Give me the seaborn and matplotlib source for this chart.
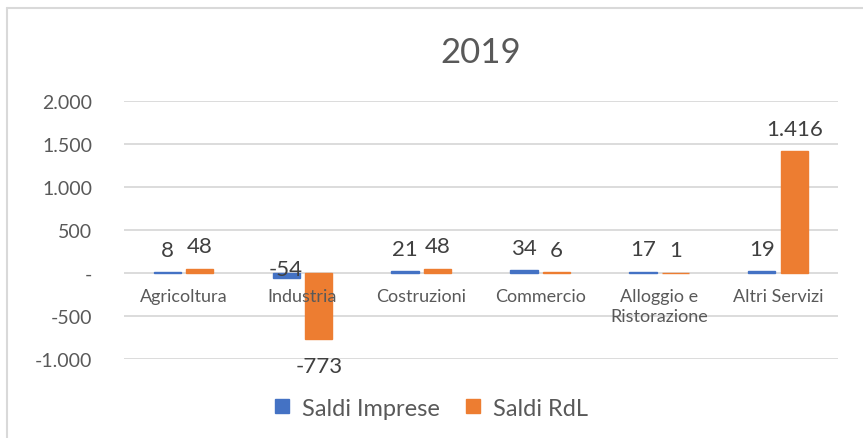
import numpy as np
import pandas as pd
import seaborn as sns
import matplotlib.pyplot as plt
from matplotlib.lines import Line2D

# data
categories = ["Agricoltura", "Industria", "Costruzioni", "Commercio",
              "Alloggio e\nRistorazione", "Altri Servizi"]
saldi_imprese = [8, -54, 21, 34, 17, 19]
saldi_rdl = [48, -773, 48, 6, 1, 1416]
series_names = ["Saldi Imprese", "Saldi RdL"]
colors = ["#4472C4", "#ED7D31"]
yticks = [-1000, -500, 0, 500, 1000, 1500, 2000]

def fmt_it(v):
    if v == 0:
        return "-"
    return f"{v:,.0f}".replace(",", ".")

df = pd.DataFrame({
    "cat": categories * 2,
    "serie": [series_names[0]] * 6 + [series_names[1]] * 6,
    "val": saldi_imprese + saldi_rdl,
})

sns.set_theme(style="white")
plt.rcParams['font.family'] = ['Lato', 'DejaVu Sans']
txt = "#595959"

fig = plt.figure(figsize=(8.63, 4.39), dpi=100)
ax = fig.add_axes([0.1437, 0.18, 0.827, 0.5877])

sns.barplot(data=df, x="cat", y="val", hue="serie", palette=colors,
            saturation=1, width=0.55, gap=0.17, ax=ax, legend=False,
            zorder=3)
for cont, c in zip(ax.containers, colors):
    for p in cont:
        p.set_edgecolor(c)
        p.set_linewidth(1.0)

ax.set_ylim(-1000, 2000)
ax.set_yticks(yticks)
ax.set_yticklabels([fmt_it(v) for v in yticks], color=txt, fontsize=14)
ax.yaxis.grid(True, color="#D9D9D9", linewidth=1.3, zorder=0)
ax.tick_params(axis="y", length=0, pad=23)
for s in ax.spines.values():
    s.set_visible(False)

# category labels just below zero line
ax.set_xticks([])
ax.set_xlabel("")
ax.set_ylabel("")
for i, c in enumerate(categories):
    ax.annotate(c, (i, 0), xytext=(0, -11), textcoords="offset points",
                ha="center", va="top", color=txt, fontsize=13,
                linespacing=1.3)

# data labels
for cont in ax.containers:
    for p in cont:
        h = p.get_height()
        x = p.get_x() + p.get_width() / 2
        if h < -100:
            ax.annotate(fmt_it(h), (x, h), xytext=(0, -12),
                        textcoords="offset points", ha="center", va="top",
                        color="#404040", fontsize=16)
        elif h < 0:
            ax.annotate(fmt_it(h), (x, 0), xytext=(0, 3),
                        textcoords="offset points", ha="center",
                        va="center", color="#404040", fontsize=16)
        else:
            ax.annotate(fmt_it(h), (x, h), xytext=(0, 9),
                        textcoords="offset points", ha="center",
                        va="bottom", color="#404040", fontsize=16)

ax.set_title("2019", color=txt, fontsize=25, pad=28)

handles = [Line2D([], [], marker="s", linestyle="", markersize=10,
                  color=c) for c in colors]
fig.legend(handles, series_names, loc="center", bbox_to_anchor=(0.5, 0.068),
           ncol=2, frameon=False, fontsize=17, handlelength=0.6,
           handletextpad=0.55, columnspacing=1.1, labelcolor=txt)

# chart frame
fig.add_artist(Line2D([6.5 / 863, 6.5 / 863], [0, 1 - 9 / 439],
                      color="#D9D9D9", linewidth=1.5))
fig.add_artist(Line2D([6.5 / 863, 1], [1 - 9 / 439, 1 - 9 / 439],
                      color="#D9D9D9", linewidth=1.5))

fig.savefig("out.png", dpi=100)
